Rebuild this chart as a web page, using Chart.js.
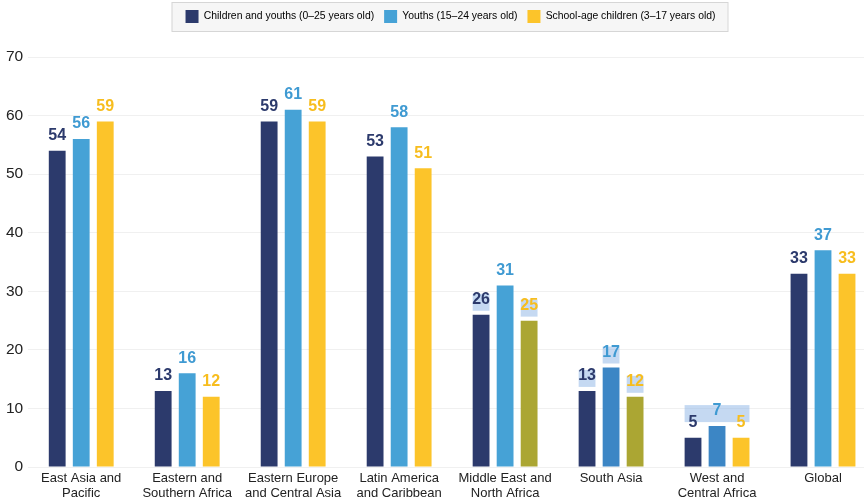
<!DOCTYPE html>
<html>
<head>
<meta charset="utf-8">
<script src="https://cdn.jsdelivr.net/npm/chart.js@4/dist/chart.umd.min.js"></script>
<style>
  html, body { margin: 0; padding: 0; background: #fff; overflow: hidden; }
  #wrap { width: 864px; height: 503px; overflow: hidden; }
</style>
</head>
<body>
<div id="wrap"><canvas id="chart" width="878" height="503"></canvas></div>
<script>
const regions = [
    ['East Asia and', 'Pacific'],
    ['Eastern and', 'Southern Africa'],
    ['Eastern Europe', 'and Central Asia'],
    ['Latin America', 'and Caribbean'],
    ['Middle East and', 'North Africa'],
    ['South Asia'],
    ['West and', 'Central Africa'],
    ['Global']
];
const childrenYouths = [54, 13, 59, 53, 26, 13, 5, 33];
const youths = [56, 16, 61, 58, 31, 17, 7, 37];
const schoolAge = [59, 12, 59, 51, 25, 12, 5, 33];
const yTicks = [0, 10, 20, 30, 40, 50, 60, 70];

// odd tints in the source picture
const navy = '#2c3a6c', sky = '#46a2d6', gold = '#fcc42a', olive = '#aba633', deepSky = '#3c86c5';
const youthsColors = [sky, sky, sky, sky, sky, deepSky, deepSky, sky];
const schoolColors = [gold, gold, gold, gold, olive, olive, gold, gold];
// label highlight boxes: [category, first dataset, last dataset]
const highlights = [[4, 0, 0], [4, 2, 2], [5, 0, 0], [5, 1, 1], [5, 2, 2], [6, 0, 2]];

const labelColors = [navy, '#3f9ad2', '#f7bd1e'];
const FONT = '"Liberation Sans", Arial, sans-serif';

const labelPlugin = {
    id: 'barLabels',
    afterDatasetsDraw(chart) {
        const ctx = chart.ctx;
        ctx.save();
        ctx.fillStyle = 'rgba(150, 186, 232, 0.55)';
        highlights.forEach(([i, a, b]) => {
            let left = Infinity, right = -Infinity, top = Infinity;
            for (let d = a; d <= b; d++) {
                const bar = chart.getDatasetMeta(d).data[i];
                left = Math.min(left, bar.x - bar.width / 2);
                right = Math.max(right, bar.x + bar.width / 2);
                top = Math.min(top, bar.y);
            }
            ctx.fillRect(left, top - 21, right - left, 17);
        });
        ctx.font = 'bold 16px ' + FONT;
        ctx.textAlign = 'center';
        ctx.textBaseline = 'bottom';
        chart.data.datasets.forEach((ds, d) => {
            ctx.fillStyle = labelColors[d];
            chart.getDatasetMeta(d).data.forEach((bar, i) => {
                ctx.fillText(ds.data[i], bar.x, bar.y - 7);
            });
        });
        ctx.restore();
    }
};

// taller legend block, nudged right, with a grey frame
const legendBox = {
    id: 'legendBox',
    beforeInit(chart) {
        const lg = chart.legend;
        const fit = lg.fit;
        lg.fit = function () { fit.call(this); this.height += 24; };
    },
    afterUpdate(chart) {
        const lg = chart.legend;
        lg.left += 12; lg.right += 12;
        lg.legendHitBoxes.forEach(h => { h.left += 12; });
    },
    beforeDraw(chart) {
        const boxes = chart.legend.legendHitBoxes;
        if (!boxes || !boxes.length) return;
        let l = Infinity, r = -Infinity, t = Infinity, b = -Infinity;
        boxes.forEach(h => {
            l = Math.min(l, h.left); r = Math.max(r, h.left + h.width);
            t = Math.min(t, h.top); b = Math.max(b, h.top + h.height);
        });
        const ctx = chart.ctx;
        ctx.save();
        ctx.fillStyle = '#f6f6f6';
        ctx.strokeStyle = '#d6d6d6';
        ctx.lineWidth = 1;
        ctx.fillRect(l - 14, t - 8, r - l + 26, b - t + 16);
        ctx.strokeRect(l - 14 + 0.5, t - 8 + 0.5, r - l + 26, b - t + 16);
        ctx.restore();
    }
};

new Chart(document.getElementById('chart'), {
    type: 'bar',
    data: {
        labels: regions,
        datasets: [
            { label: 'Children and youths (0\u201325 years old)', data: childrenYouths, backgroundColor: navy },
            { label: 'Youths (15\u201324 years old)', data: youths, backgroundColor: youthsColors },
            { label: 'School-age children (3\u201317 years old)', data: schoolAge, backgroundColor: schoolColors }
        ]
    },
    options: {
        responsive: false,
        animation: false,
        layout: { padding: { top: 0, right: 2, left: 1, bottom: -2 } },
        datasets: { bar: { categoryPercentage: 0.68, barPercentage: 0.7 } },
        plugins: {
            legend: {
                position: 'top',
                labels: {
                    boxWidth: 13, boxHeight: 13, padding: 10,
                    color: '#222',
                    font: { family: FONT, size: 10.4 },
                    generateLabels(chart) {
                        return chart.data.datasets.map((ds, i) => ({
                            text: ds.label, fillStyle: [navy, sky, gold][i],
                            strokeStyle: 'rgba(0,0,0,0)', lineWidth: 0, datasetIndex: i
                        }));
                    }
                }
            },
            tooltip: { enabled: false }
        },
        scales: {
            y: {
                min: 0, max: 70,
                afterBuildTicks(axis) { axis.ticks = yTicks.map(v => ({ value: v })); },
                grid: { color: '#f0f0f0', drawTicks: false },
                border: { display: false },
                ticks: { color: '#222', padding: 5, font: { family: FONT, size: 15.5 } }
            },
            x: {
                grid: { display: false, drawTicks: false },
                border: { display: false },
                ticks: { color: '#222', padding: 4, maxRotation: 0, autoSkip: false, font: { family: FONT, size: 13, lineHeight: 1.15 } }
            }
        }
    },
    plugins: [legendBox, labelPlugin]
});
</script>
</body>
</html>
